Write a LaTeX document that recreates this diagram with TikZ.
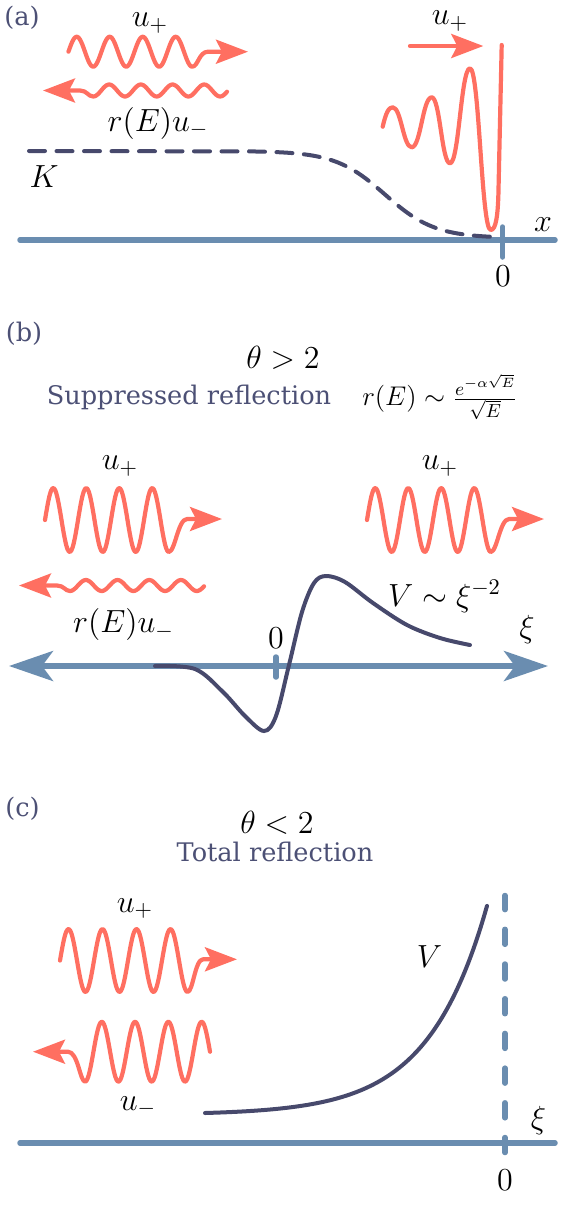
\RequirePackage{fix-cm}
\documentclass[tikz,border=0pt]{standalone}
\usepackage[no-math]{fontspec}
\newfontfamily\tagfont{DejaVu Serif}
\usepackage{xcolor}
\usetikzlibrary{arrows.meta}

\definecolor{wavecoral}{HTML}{FF6F61}
\definecolor{axisblue}{HTML}{6A8DB0}
\definecolor{potnavy}{HTML}{47496C}
\definecolor{tagnavy}{HTML}{4C5075}

\begin{document}
\begin{tikzpicture}[
			x=0.5pt,y=-0.5pt,
			wave/.style={draw=wavecoral,line width=2.1pt,line cap=round,line join=round},
			wavetip/.style={-{Stealth[length=16pt,width=12pt,inset=3pt]}},
			axis/.style={draw=axisblue,line width=2.75pt,line cap=round},
			axistip/.style={{Stealth[length=22pt,width=15pt,inset=5.5pt]}-{Stealth[length=22pt,width=15pt,inset=5.5pt]}},
			pot/.style={draw=potnavy,line width=2pt,line cap=round},
			lbl/.style={inner sep=0pt,font=\fontsize{16}{19}\selectfont},
			tag/.style={inner sep=0pt,text=tagnavy,font=\tagfont\fontsize{12.8}{15}\selectfont}
			]
			\useasboundingbox (0,0) rectangle (562,1212);
			% (a)
			\node[tag] (taga) at (22,18) {(a)};
			\coordinate (axa-l) at (20,240);
			\coordinate (axa-r) at (555,240);
			\draw[axis] (axa-l)--(axa-r);
			\draw[axis] (502.7,227)--(502.7,257);
			\node[lbl] (zeroa) at (503,276) {$0$};
			\node[lbl] (xa) at (543,225) {$x$};
			\node[lbl] (Ka) at (44,177) {$K$};
			\draw[pot,dash pattern=on 8pt off 5.75pt] (29,151)--(250,151.4)--plot[domain=250:500,samples=60,smooth] (\x,{151+87/(1+exp((385-\x)/25))});
			\draw[wave,wavetip] plot[domain=68.45:192.2,samples=100,smooth] (\x,{51.7-15*sin((\x-68.45)/33*360)}) .. controls (198,66.7) and (199,51.7) .. (208,51.7)--(248,51.7);
			\node[lbl] (upa) at (150,23) {$u_+$};
			\draw[wave,wavetip] plot[domain=227:93.3,samples=100,smooth] (\x,{90.5+6*cos((\x-93.3)/31.7*360)}) .. controls (88,96.5) and (87,90.5) .. (80,90.5)--(43,90.5);
			\node[lbl] (rua) at (158,123) {$r(E)u_-$};
			\draw[wave] (382.7,126.7) .. controls (386,112) and (389,107.3) .. (392.7,107.3)
				.. controls (401.2,107.3) and (403.2,147.3) .. (411.7,147.3)
				.. controls (420.7,147.3) and (422.7,97.3) .. (431.7,97.3)
				.. controls (440,97.3) and (441.7,163.3) .. (450,163.3)
				.. controls (459,163.3) and (461,68.3) .. (470,68.3)
				.. controls (479.3,68.3) and (481.4,230) .. (490.7,230)
				.. controls (496,230) and (498,215) .. (498.5,190)--(501.7,45);
			\coordinate (inca-s) at (410,46);
			\coordinate (inca-e) at (483.3,46);
			\draw[wave,wavetip] (inca-s)--(inca-e);
			\node[lbl] (upb) at (450,21) {$u_+$};
			% (b)
			\node[tag] (tagb) at (24,334) {(b)};
			\node[lbl] (thetab) at (283,358) {$\theta>2$};
			\node[tag] (suppr) at (189,397) {Suppressed reflection};
			\node[lbl,font=\fontsize{13.5}{16}\selectfont] (rEb) at (440,397) {$r(E)\sim\frac{e^{-\alpha\sqrt{E}}}{\sqrt{E}}$};
			\coordinate (axb-l) at (9,666);
			\coordinate (axb-r) at (548,666);
			\draw[axis,axistip] (axb-l)--(axb-r);
			\draw[axis] (276,657)--(276,677);
			\node[lbl] (zerob) at (276,638.5) {$0$};
			\node[lbl] (xib) at (527,629) {$\xi$};
			\draw[pot] plot[smooth,tension=0.55] coordinates {(155,666) (195,669) (223,692) (245,716) (264,731) (276,716) (289,665) (302,612) (314,583) (326,576) (345,582) (373,603) (407,625) (440,638) (470,645)};
			\node[lbl] (Vb) at (444.5,596.5) {$V\sim\xi^{-2}$};
			\draw[wave,wavetip] plot[domain=45:168.75,samples=100,smooth] (\x,{520-32*sin((\x-45)/33*360)}) .. controls (175,552) and (178,519) .. (187,519)--(222,519);
			\draw[wave,wavetip] plot[domain=367:490.75,samples=100,smooth] (\x,{520-32*sin((\x-367)/33*360)}) .. controls (497,552) and (500,519) .. (509,519)--(544,519);
			\node[lbl] (upc) at (120,466) {$u_+$};
			\node[lbl] (upd) at (440,466) {$u_+$};
			\draw[wave,wavetip] plot[domain=204:70,samples=100,smooth] (\x,{585.5+5.5*cos((\x-70)/31.7*360)}) .. controls (65,591) and (64,585.5) .. (57,585.5)--(19,585.5);
			\node[lbl] (rub) at (123.5,624.5) {$r(E)u_-$};
			% (c)
			\node[tag] (tagc) at (22.5,809) {(c)};
			\node[lbl] (thetac) at (277,823) {$\theta<2$};
			\node[tag] (total) at (275,852) {Total reflection};
			\coordinate (axc-l) at (20,1143);
			\coordinate (axc-r) at (555,1143);
			\draw[axis] (axc-l)--(axc-r);
			\draw[axis,dash pattern=on 7.5pt off 9.85pt] (505,1152.5)--(505,895.5);
			\node[lbl] (zeroc) at (505,1180) {$0$};
			\node[lbl] (xic) at (538.5,1120.5) {$\xi$};
			\draw[pot] plot[domain=205:487,samples=100,smooth] (\x,{1113-1.73*(exp(0.017*(\x-205))-1)});
			\node[lbl] (Vc) at (429.5,956.5) {$V$};
			\draw[wave,wavetip] plot[domain=60:187.5,samples=100,smooth] (\x,{960.5-31.5*sin((\x-60)/34*360)}) .. controls (193,992) and (195,959.3) .. (203,959.3)--(237,959.3);
			\node[lbl] (upe) at (135,908.5) {$u_+$};
			\draw[wave,wavetip] plot[domain=210:85.1,samples=100,smooth] (\x,{1051.7-30*sin((210-\x)/33.3*360)}) .. controls (80,1081.7) and (78,1051.7) .. (68,1051.7)--(33,1051.7);
			\node[lbl] (umc) at (138,1106.5) {$u_-$};
		\end{tikzpicture}
\end{document}
